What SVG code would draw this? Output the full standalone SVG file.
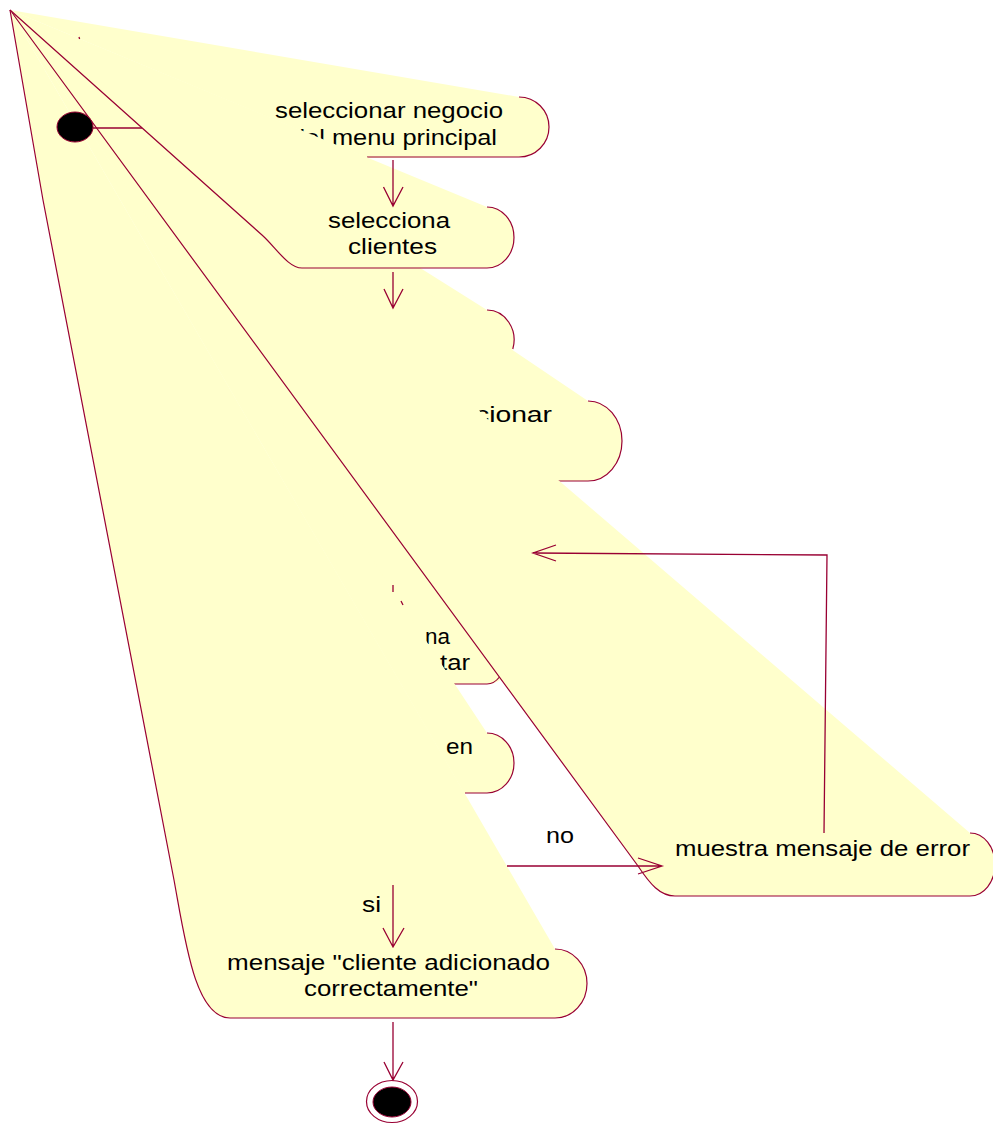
<svg xmlns="http://www.w3.org/2000/svg" xmlns:xlink="http://www.w3.org/1999/xlink" width="993" height="1124" viewBox="0 0 993 1124">
<style>
.f{fill:#FFFFCC;stroke:none}
.s{fill:none;stroke:#990033;stroke-width:1.2}
.t{font-family:"Liberation Sans",Arial,sans-serif;font-size:22px;fill:#000}
.c{fill:none;stroke:#990033;stroke-width:1.3}
</style>
<defs>
<path id="p1" d="M10,10 L519,97 A30,30 0 0 1 519,157 L367,158 Z"/>
<path id="p2" d="M10,10 L487,207 A27,30.5 0 0 1 487,268 L302,268 C288,268 276,247.5 262,235 Z"/>
<path id="p3" d="M10,10 L487,310 A27,30 0 0 1 487,370 L430,370 Z"/>
<path id="p4" d="M10,10 L588,401 A34,40 0 0 1 588,481 L558,481 Q545,481 540,475 Z"/>
<path id="p5" d="M10,10 L487,624 A27,30 0 0 1 487,684 L452,684 Z"/>
<path id="p6" d="M10,10 L487,733 A27,30 0 0 1 487,793 L464,793 Z"/>
<path id="p7" d="M10,10 L970,833 A25,31.5 0 0 1 970,896 L675,896 C660,896 650,884 638,866 Z"/>
<path id="p8" d="M10,10 L555,949 A32,34.5 0 0 1 555,1018 L230,1018 C195,1018 185,940 174,880 L43,200 Z"/>
<clipPath id="k1"><path d="M10,10 L519,97 L560,97 L560,160 L312,152 L296,128 Z"/></clipPath>
<clipPath id="k4"><path d="M10,10 L588,401 L630,401 L630,481 L558,481 L540,475 L474,405 Z"/></clipPath>
<clipPath id="k5"><use xlink:href="#p5"/></clipPath>
<clipPath id="k6"><use xlink:href="#p6"/></clipPath>
</defs>

<g id="node-seleccionar-negocio">
<use xlink:href="#p1" class="f"/>
<path class="s" d="M519,97 A30,30 0 0 1 519,157 L367,157"/>
<g clip-path="url(#k1)">
<text class="t" x="275" y="118" textLength="228" lengthAdjust="spacingAndGlyphs">seleccionar negocio</text>
<text class="t" x="291" y="145" textLength="206" lengthAdjust="spacingAndGlyphs">del menu principal</text>
</g>
</g>

<g id="node-3">
<use xlink:href="#p3" class="f"/>
<path class="s" d="M487,310 A27,30 0 0 1 512.8,349"/>
</g>

<g id="node-adicionar">
<use xlink:href="#p4" class="f"/>
<path class="s" d="M588,401 A34,40 0 0 1 588,481 L558,481"/>
<text class="t" clip-path="url(#k4)" x="475" y="422" textLength="77" lengthAdjust="spacingAndGlyphs">cionar</text>
</g>

<g id="node-na-tar">
<use xlink:href="#p5" class="f"/>
<path class="s" d="M499.5,677 Q494,684 487,684 L454,684"/>
<g clip-path="url(#k5)">
<text class="t" x="425" y="644" textLength="25" lengthAdjust="spacingAndGlyphs">na</text>
<text class="t" x="440" y="670" textLength="30" lengthAdjust="spacingAndGlyphs">tar</text>
</g>
</g>

<g id="node-en">
<use xlink:href="#p6" class="f"/>
<path class="s" d="M487,733 A27,30 0 0 1 487,793 L465,793"/>
<text class="t" clip-path="url(#k6)" x="446" y="754" textLength="27" lengthAdjust="spacingAndGlyphs">en</text>
</g>

<g id="node-error">
<use xlink:href="#p7" class="f"/>
<path class="s" d="M970,833 A25,31.5 0 0 1 970,896 L675,896 C660,896 650,884 638,866 L10,10"/>
<text class="t" x="675" y="856" textLength="295" lengthAdjust="spacingAndGlyphs">muestra mensaje de error</text>
</g>

<g id="node-mensaje-ok">
<use xlink:href="#p8" class="f"/>
<path class="s" d="M555,949 A32,34.5 0 0 1 555,1018 L230,1018 C195,1018 185,940 174,880 L43,200 L10,10"/>
<text class="t" x="227" y="970" textLength="323" lengthAdjust="spacingAndGlyphs">mensaje "cliente adicionado</text>
<text class="t" x="304" y="996" textLength="174" lengthAdjust="spacingAndGlyphs">correctamente"</text>
</g>

<g id="node-selecciona-clientes">
<use xlink:href="#p2" class="f"/>
<path class="s" d="M487,207 A27,30.5 0 0 1 487,268 L302,268 C288,268 276,247.5 262,235 L10,10"/>
<text class="t" x="328" y="228" textLength="122" lengthAdjust="spacingAndGlyphs">selecciona</text>
<text class="t" x="348" y="254" textLength="89" lengthAdjust="spacingAndGlyphs">clientes</text>
</g>

<g id="start">
<ellipse cx="75" cy="127" rx="18" ry="15" fill="#000" stroke="#990033" stroke-width="1"/>
</g>

<g id="end">
<ellipse cx="392" cy="1101.5" rx="25.5" ry="21" fill="#fff" stroke="#990033" stroke-width="1.2"/>
<ellipse cx="392" cy="1102" rx="19" ry="15" fill="#000" stroke="#990033" stroke-width="1"/>
</g>

<g id="connectors">
<path class="c" d="M93,128 L142,128"/>
<path class="c" d="M393,160 L393,206 M383.5,187 L393,206 L403,187"/>
<path class="c" d="M393,272 L393,308 M384,289 L393,308 L403,289"/>
<path class="c" d="M824,833 L827,555 L533,553 M556,545 L533,553 L556,561"/>
<path class="c" d="M507,866 L662,866 M638,858 L662,866 L638,874"/>
<path class="c" d="M393,885 L393,947 M383,928 L393,947 L404,928"/>
<path class="c" d="M393,1022 L393,1080 M384,1062 L393,1080 L403,1062"/>
<path class="c" d="M393,585 L393,592 M401,601 L403,605 M79,37 L79.6,39"/>
<text class="t" x="362" y="912" textLength="19" lengthAdjust="spacingAndGlyphs">si</text>
<text class="t" x="546" y="843" textLength="28" lengthAdjust="spacingAndGlyphs">no</text>
</g>
</svg>
